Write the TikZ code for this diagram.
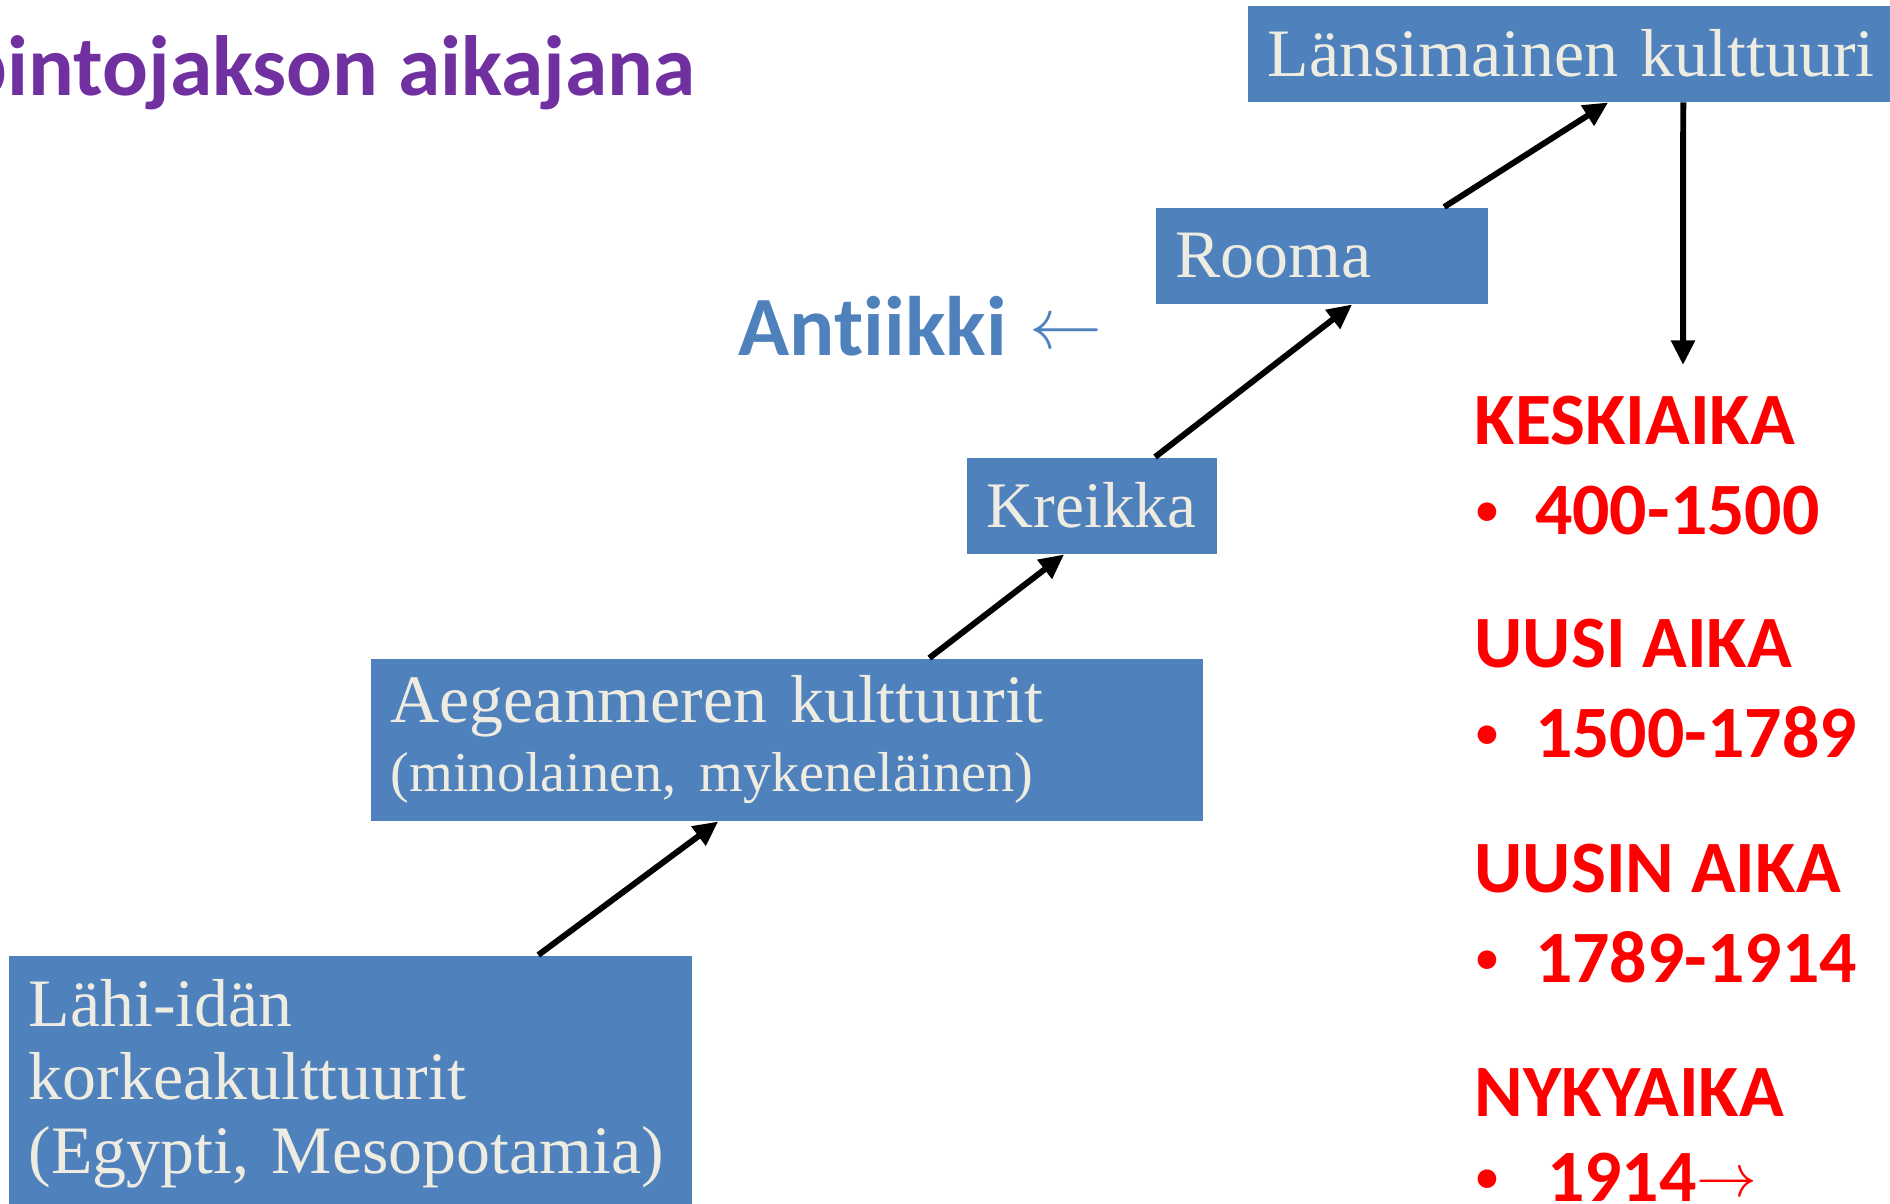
\documentclass[tikz,border=0pt]{standalone}
\usepackage{fontspec}
\setmainfont{Liberation Serif}[WordSpace=0.85]
\newfontfamily\calibri{Carlito}[Ligatures=NoCommon]
\usetikzlibrary{arrows.meta}

\definecolor{boxblue}{HTML}{4F81BD}
\definecolor{boxtext}{HTML}{EEECE1}
\definecolor{titlepurple}{HTML}{7030A0}
\definecolor{erared}{HTML}{FF0000}

\newcommand{\erabullet}[1]{\makebox[#1][l]{\raisebox{2.9pt}{\fontsize{12.5}{12.5}\selectfont•}}}

\begin{document}
\begin{tikzpicture}[x=0.01cm, y=-0.01cm,
	box/.style={fill=boxblue, text=boxtext, anchor=north west, align=left, inner xsep=0.2cm, inner ysep=0pt, font=\fontsize{19.3}{21}\selectfont},
	steparrow/.style={-{Triangle[width=6.5pt,length=7pt]}, line width=1.7pt},
	era/.style={anchor=base west, text=erared, inner sep=0pt, font=\calibri\bfseries\fontsize{21}{25}\selectfont}]

		\useasboundingbox (0,0) rectangle (1890,1204);
		\clip (0,0) rectangle (1890,1204);

		\node[anchor=base west, inner sep=0pt, text=titlepurple, font=\calibri\bfseries\fontsize{24.3}{29}\selectfont] (title) at (-39,96) {pintojakson aikajana};

		\node[box, text width=6.2cm, minimum height=0.96cm] (lansi) at (1247,5) {Länsimainen kulttuuri};
		\node[box, text width=2.92cm, minimum height=0.96cm] (rooma) at (1155,207) {Rooma};
		\node[box, text width=2.1cm, minimum height=0.96cm, font=\fontsize{18.5}{21}\selectfont] (kreikka) at (966,457) {Kreikka};
		\node[box, text width=7.92cm, minimum height=1.62cm] (aegea) at (370,658) {Aegeanmeren kulttuurit\\[-1.4pt]{\fontsize{16}{19}\selectfont (minolainen, mykeneläinen)}};
		\node[box, text width=6.43cm, minimum height=2.56cm] (lahi) at (8,955) {Lähi-idän\\korkeakulttuurit\\(Egypti, Mesopotamia)};

		\node[anchor=base west, inner sep=0pt, text=boxblue, font=\calibri\bfseries\fontsize{24}{29}\selectfont] (antiikki) at (738,356) {Antiikki\hspace{6.5pt}\raisebox{2pt}{\fontsize{19.5}{19.5}\selectfont$\leftarrow$}};

		\coordinate (keskiarrow) at (1683,365);

		\draw[steparrow] ([xshift=5.3cm]lahi.north west) -- ([xshift=3.48cm]aegea.south west);
		\draw[steparrow] ([xshift=5.59cm]aegea.north west) -- ([xshift=0.98cm]kreikka.south west);
		\draw[steparrow] ([xshift=1.89cm]kreikka.north west) -- ([xshift=1.97cm]rooma.south west);
		\draw[steparrow] ([xshift=2.89cm]rooma.north west) -- ([xshift=3.61cm]lansi.south west);
		\draw[steparrow] ([xshift=4.36cm]lansi.south west) -- (keskiarrow);

		\node[era] (keski) at (1474,445) {KESKIAIKA};
		\node[era] (keskiv) at (1476,535) {\erabullet{16.6pt}400-1500};
		\node[era] (uusi) at (1474,668) {UUSI AIKA};
		\node[era] (uusiv) at (1476,758) {\erabullet{16.6pt}1500-1789};
		\node[era] (uusin) at (1474,893) {UUSIN AIKA};
		\node[era] (uusinv) at (1476,983) {\erabullet{16.6pt}1789-1914};
		\node[era] (nyky) at (1474,1117) {NYKYAIKA};
		\node[era] (nykyv) at (1476,1202) {\erabullet{20pt}1914\raisebox{1.7pt}{\fontsize{16.5}{16.5}\selectfont$\rightarrow$}};

	\end{tikzpicture}
\end{document}
